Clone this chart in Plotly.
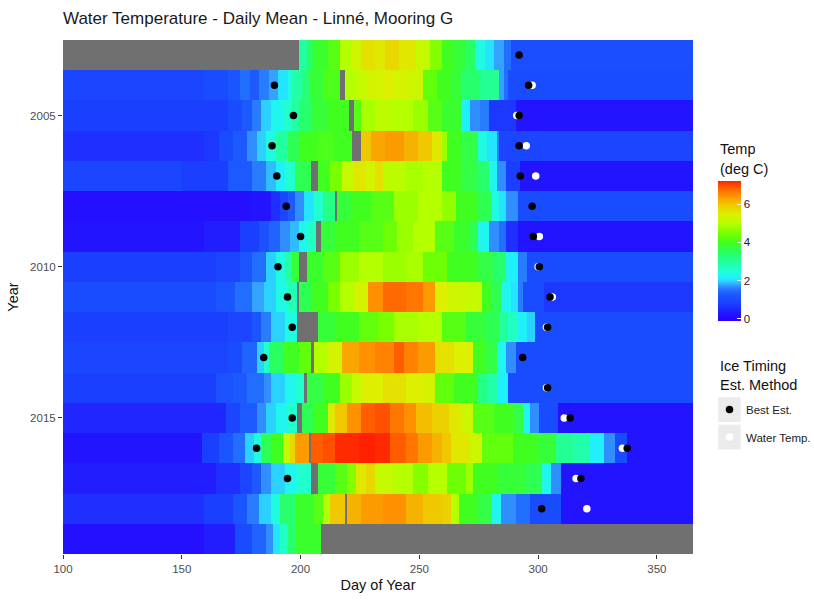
import plotly.graph_objects as go

# ---------------- data ----------------
years = list(range(2003, 2020))
days = list(range(100, 366))

# daily mean temperature, given as (first day of segment, deg C); None = no data
seg_2003 = [(100, None), (200, 3.0), (203, 3.5), (206, 3.9), (212, 4.2), (217, 5.0), (222, 5.3),
            (226, 5.7), (232, 5.6), (236, 5.8), (242, 5.6), (249, 5.2), (255, 4.6), (260, 4.0),
            (265, 3.8), (270, 3.5), (274, 2.4), (278, 2.1), (282, 1.8), (286, 1.5), (289, 1.05)]
seg_2004 = [(100, 0.9), (160, 1.0), (170, 1.2), (175, 1.5), (179, 1.3), (183, 1.6), (187, 1.8),
            (191, 2.1), (195, 2.4), (197, 2.9), (201, 3.3), (204, 3.8), (210, 4.1), (217, None),
            (219, 5.0), (224, 5.2), (229, 5.4), (235, 5.5), (240, 5.4), (246, 5.3), (252, 4.3),
            (258, 4.0), (264, 3.8), (268, 3.4), (276, 3.1), (284, 1.8), (286, 1.5), (288, 1.0)]
seg_2005 = [(100, 0.8), (170, 1.0), (176, 1.3), (180, 1.6), (184, 2.0), (188, 2.3), (193, 2.6),
            (197, 3.0), (200, 3.4), (205, 3.8), (212, 4.0), (221, None), (223, 4.2), (226, 4.9),
            (232, 5.1), (240, 5.0), (248, 4.8), (254, 4.2), (260, 3.9), (268, 2.2), (272, 1.7),
            (276, 1.6), (280, 0.7), (291, 0.3)]
seg_2006 = [(100, 0.6), (160, 0.7), (166, 1.0), (172, 1.3), (178, 1.7), (182, 2.0), (186, 2.4),
            (190, 3.0), (195, 3.6), (200, 4.0), (208, 4.1), (214, 4.0), (222, None), (226, 6.0),
            (230, 6.3), (236, 6.4), (244, 6.2), (250, 6.0), (256, 5.6), (260, 4.8), (262, 4.0),
            (268, 3.7), (275, 2.4), (279, 2.1), (283, 1.6), (284, 0.9)]
seg_2007 = [(100, 0.9), (150, 0.8), (170, 1.3), (180, 1.6), (186, 1.9), (190, 2.2), (194, 2.6),
            (198, 3.6), (205, None), (208, 4.0), (213, 4.5), (218, 5.2), (223, 5.6), (228, 5.4),
            (232, 5.7), (235, 5.1), (245, 4.9), (252, 5.0), (260, 4.0), (268, 3.7), (275, 3.4),
            (280, 2.3), (283, 1.7), (287, 0.8), (293, 0.3)]
seg_2008 = [(100, 0.2), (180, 0.3), (188, 0.6), (192, 0.9), (195, 1.3), (198, 1.7), (202, 2.1),
            (206, 2.6), (210, 3.2), (215, None), (216, 3.8), (222, 4.0), (230, 4.2), (240, 4.8),
            (250, 5.0), (260, 4.7), (266, 4.0), (275, 3.6), (281, 2.4), (284, 2.1), (287, 1.7),
            (292, 1.0)]
seg_2009 = [(100, 0.3), (160, 0.4), (175, 0.8), (183, 1.1), (187, 1.4), (192, 1.7), (196, 1.9),
            (200, 2.3), (203, 2.7), (207, None), (209, 3.8), (215, 4.0), (225, 4.2), (235, 4.4),
            (241, 4.8), (248, 5.0), (257, 4.2), (265, 3.9), (272, 3.6), (275, 2.3), (280, 1.7),
            (284, 1.5), (287, 0.6), (292, 0.3)]
seg_2010 = [(100, 0.8), (165, 0.9), (175, 1.2), (180, 1.5), (186, 2.0), (190, 2.4), (194, 3.0),
            (197, 3.8), (200, None), (203, 3.9), (210, 4.2), (217, 4.8), (225, 5.0), (235, 4.8),
            (245, 4.9), (252, 4.4), (262, 4.0), (275, 3.7), (282, 3.4), (287, 2.2), (292, 1.6),
            (296, 1.0)]
seg_2011 = [(100, 1.0), (165, 1.2), (173, 1.5), (180, 1.8), (185, 2.0), (190, 2.4), (195, 2.8),
            (199, None), (200, 3.6), (205, 4.0), (212, 4.5), (217, 5.0), (223, 5.4), (229, 6.5),
            (235, 6.8), (245, 6.7), (252, 6.4), (257, 5.5), (262, 5.3), (270, 5.2), (277, 4.0),
            (281, 3.6), (285, 2.3), (289, 2.1), (292, 1.6), (294, 1.0), (303, 0.7)]
seg_2012 = [(100, 0.8), (170, 0.9), (180, 1.2), (184, 1.6), (188, 2.0), (194, 2.4), (199, None),
            (208, 3.8), (215, 4.0), (225, 4.3), (233, 4.5), (240, 4.9), (250, 5.0), (260, 4.2),
            (270, 3.8), (278, 3.6), (284, 3.0), (288, 2.7), (292, 2.2), (296, 2.0), (299, 1.0)]
seg_2013 = [(100, 0.9), (170, 1.0), (176, 1.4), (182, 2.0), (185, 2.6), (187, 3.5), (193, 4.0),
            (200, 4.3), (205, None), (206, 5.0), (212, 5.4), (218, 6.3), (225, 6.5), (232, 6.6),
            (240, 6.9), (244, 6.6), (250, 6.4), (257, 5.7), (265, 5.5), (273, 4.0), (278, 3.7),
            (283, 2.3), (287, 1.7), (291, 1.0)]
seg_2014 = [(100, 0.8), (165, 1.1), (172, 1.3), (178, 1.5), (185, 1.7), (188, 2.0), (194, 2.3),
            (198, 2.6), (202, None), (203, 3.7), (210, 4.0), (217, 4.8), (222, 5.2), (226, 5.5),
            (235, 5.7), (245, 5.5), (252, 5.4), (257, 4.3), (265, 4.0), (275, 3.2), (279, 2.9),
            (283, 2.2), (288, 1.0)]
seg_2015 = [(100, 0.5), (169, 0.9), (175, 1.3), (182, 1.7), (186, 2.0), (190, 2.3), (195, 2.6),
            (199, None), (201, 3.6), (206, 4.0), (212, 5.6), (215, 6.0), (220, 6.5), (226, 6.9),
            (232, 7.0), (238, 6.7), (244, 6.5), (249, 6.1), (256, 5.9), (263, 5.6), (268, 5.3),
            (273, 4.2), (282, 4.0), (290, 3.7), (294, 2.3), (297, 1.7), (301, 1.0), (309, 0.3)]
seg_2016 = [(100, 0.3), (159, 0.8), (166, 1.2), (172, 1.5), (177, 2.0), (181, 2.4), (184, 3.6),
            (188, 4.0), (193, 5.2), (196, 5.8), (198, 6.4), (204, None), (205, 6.9), (210, 7.0),
            (215, 7.2), (225, 7.25), (232, 7.2), (238, 6.9), (245, 6.7), (250, 6.4), (256, 6.2),
            (260, 6.0), (264, 5.6), (272, 5.3), (277, 4.3), (290, 4.0), (300, 3.8), (308, 3.1),
            (315, 2.9), (322, 2.2), (328, 1.7), (333, 1.0), (338, 0.3)]
seg_2017 = [(100, 0.4), (165, 0.6), (175, 0.9), (180, 1.3), (184, 1.7), (188, 2.0), (194, 2.3),
            (199, 2.6), (205, None), (208, 3.8), (215, 4.2), (220, 4.6), (224, 5.6), (228, 5.8),
            (232, 5.2), (240, 5.0), (248, 4.6), (254, 5.0), (262, 4.4), (270, 4.8), (273, 4.0),
            (283, 3.8), (295, 3.6), (302, 2.3), (306, 1.7), (310, 0.3)]
seg_2018 = [(100, 0.6), (160, 0.8), (172, 1.2), (178, 1.6), (183, 2.0), (188, 2.4), (192, 3.4),
            (198, 3.9), (206, 4.2), (210, 5.0), (213, 6.0), (219, None), (220, 6.2), (226, 6.4),
            (235, 6.5), (245, 6.2), (252, 6.0), (260, 5.9), (264, 5.0), (267, 4.0), (275, 3.7),
            (281, 2.3), (285, 1.7), (291, 1.5), (297, 1.0), (310, 0.3)]
seg_2019 = [(100, 0.2), (160, 0.4), (173, 1.0), (180, 1.4), (186, 1.7), (189, 2.1), (192, 2.7),
            (195, 3.4), (198, 3.9), (209, None)]

segments = {2003: seg_2003, 2004: seg_2004, 2005: seg_2005, 2006: seg_2006, 2007: seg_2007,
            2008: seg_2008, 2009: seg_2009, 2010: seg_2010, 2011: seg_2011, 2012: seg_2012,
            2013: seg_2013, 2014: seg_2014, 2015: seg_2015, 2016: seg_2016, 2017: seg_2017,
            2018: seg_2018, 2019: seg_2019}

# ice timing estimates
best_year = [2003, 2004, 2004, 2005, 2005, 2006, 2006, 2007, 2007, 2008, 2008, 2009, 2009,
             2010, 2010, 2011, 2011, 2012, 2012, 2013, 2013, 2014, 2015, 2015, 2016, 2016,
             2017, 2017, 2018]
best_day = [292, 189, 296, 197, 292, 188, 292, 190, 292.5, 194, 297.5, 200, 298,
            190.5, 300.5, 194.5, 305, 196.5, 304, 184.5, 293.5, 304, 196.5, 313.5, 181.5, 337.5,
            194.5, 318, 301.5]
wt_year = [2004, 2005, 2006, 2007, 2009, 2010, 2011, 2012, 2014, 2015, 2016, 2017, 2018]
wt_day = [297.5, 291, 295, 299, 300.5, 300, 306, 303.5, 303.5, 311, 335.5, 316, 320.5]

x_ticks = [100, 150, 200, 250, 300, 350]
y_ticks = [2005, 2010, 2015]
cbar_ticks = [0, 2, 4, 6]


def expand(segs):
    out = []
    k = 0
    for d in days:
        while k + 1 < len(segs) and segs[k + 1][0] <= d:
            k += 1
        out.append(segs[k][1])
    return out


z = [expand(segments[y]) for y in years]

ZMIN, ZMAX = -0.1, 7.25
stops = [(-0.1, "#2a00ff"), (0.3, "#2214ff"), (0.7, "#1c38ff"), (1.0, "#1a4cff"),
         (1.3, "#1c5aff"), (1.55, "#2474ff"), (1.75, "#3496ff"), (1.95, "#30c8ff"),
         (2.15, "#20eeff"), (2.5, "#20ffd8"), (3.0, "#22ffa0"), (3.5, "#28ff60"),
         (4.0, "#40ff20"), (4.5, "#78ff00"), (5.0, "#b4ff00"), (5.5, "#dcf000"),
         (6.0, "#f0c800"), (6.5, "#ff9000"), (7.0, "#ff5000"), (7.25, "#ff2000")]
colorscale = [[(t - ZMIN) / (ZMAX - ZMIN), c] for t, c in stops]

FONT = "Liberation Sans, Arial, sans-serif"
W, H = 814, 603
ML, MR, MT, MB = 63, 121, 40, 45
PW, PH = W - ML - MR, H - MT - MB


def px(xp):
    return (xp - ML) / PW


def py(yp):
    return (H - MB - yp) / PH


fig = go.Figure()
fig.add_trace(go.Heatmap(
    x=days, y=years, z=z, colorscale=colorscale, zmin=ZMIN, zmax=ZMAX,
    hoverongaps=False, showscale=True,
    colorbar=dict(
        x=px(718), xanchor="left", xpad=0,
        y=py(322.7), yanchor="bottom", ypad=0,
        len=140.4, lenmode="pixels", thickness=23, thicknessmode="pixels",
        outlinewidth=0, tickvals=cbar_ticks, ticks="inside", tickcolor="white",
        ticklen=4, tickwidth=1, tickfont=dict(family=FONT, size=11.5, color="#222"),
    ),
))
fig.add_trace(go.Scatter(x=wt_day, y=wt_year, mode="markers", name="Water Temp.",
                         marker=dict(color="white", size=7.5, line=dict(width=0)),
                         showlegend=False))
fig.add_trace(go.Scatter(x=best_day, y=best_year, mode="markers", name="Best Est.",
                         marker=dict(color="black", size=7.5, line=dict(width=0)),
                         showlegend=False))

annotations = [
    dict(text="Temp", x=px(718), y=py(150), xanchor="left", yanchor="middle"),
    dict(text="(deg C)", x=px(718), y=py(170), xanchor="left", yanchor="middle"),
    dict(text="Ice Timing", x=px(718), y=py(368.3), xanchor="left", yanchor="middle"),
    dict(text="Est. Method", x=px(718), y=py(387.3), xanchor="left", yanchor="middle"),
]
for a in annotations:
    a.update(xref="paper", yref="paper", showarrow=False,
             font=dict(family=FONT, size=14.5, color="#111"))
for label, yc in [("Best Est.", 413), ("Water Temp.", 441)]:
    annotations.append(dict(text=label, x=px(744), y=py(yc), xref="paper", yref="paper",
                            xanchor="left", yanchor="middle", showarrow=False,
                            font=dict(family=FONT, size=11.5, color="#222")))

shapes = []
for (y0, y1), col in [((400, 425), "black"), ((427.7, 452.7), "white")]:
    shapes.append(dict(type="rect", xref="paper", yref="paper",
                       x0=px(718.3), x1=px(740.7), y0=py(y1), y1=py(y0),
                       fillcolor="#ebebeb", line=dict(width=0), layer="above"))
    shapes.append(dict(type="circle", xref="paper", yref="paper",
                       xsizemode="pixel", ysizemode="pixel",
                       xanchor=px(729.5), yanchor=py((y0 + y1) / 2),
                       x0=-3.75, x1=3.75, y0=-3.75, y1=3.75,
                       fillcolor=col, line=dict(width=0), layer="above"))

fig.update_layout(
    width=W, height=H, margin=dict(l=ML, r=MR, t=MT, b=MB, pad=0),
    paper_bgcolor="white", plot_bgcolor="#707070",
    font=dict(family=FONT, color="#222"),
    title=dict(text="Water Temperature - Daily Mean - Linné, Mooring G",
               x=0, xref="paper", xanchor="left",
               y=1 - 18 / H, yref="container", yanchor="middle",
               font=dict(family=FONT, size=17, color="#1a1a1a")),
    xaxis=dict(range=[100, 365.2], tickvals=x_ticks, ticks="outside", ticklen=4,
               tickcolor="#333", tickfont=dict(family=FONT, size=11.5, color="#4d4d4d"),
               showgrid=False, zeroline=False, showline=False,
               title=dict(text="Day of Year", standoff=6,
                          font=dict(family=FONT, size=14.5, color="#111"))),
    yaxis=dict(range=[2019.5, 2002.5], tickvals=y_ticks, ticks="outside", ticklen=4,
               tickcolor="#333", tickfont=dict(family=FONT, size=11.5, color="#4d4d4d"),
               showgrid=False, zeroline=False, showline=False,
               title=dict(text="Year", standoff=8,
                          font=dict(family=FONT, size=14.5, color="#111"))),
    annotations=annotations, shapes=shapes, showlegend=False,
)

fig.write_html("out.html")
